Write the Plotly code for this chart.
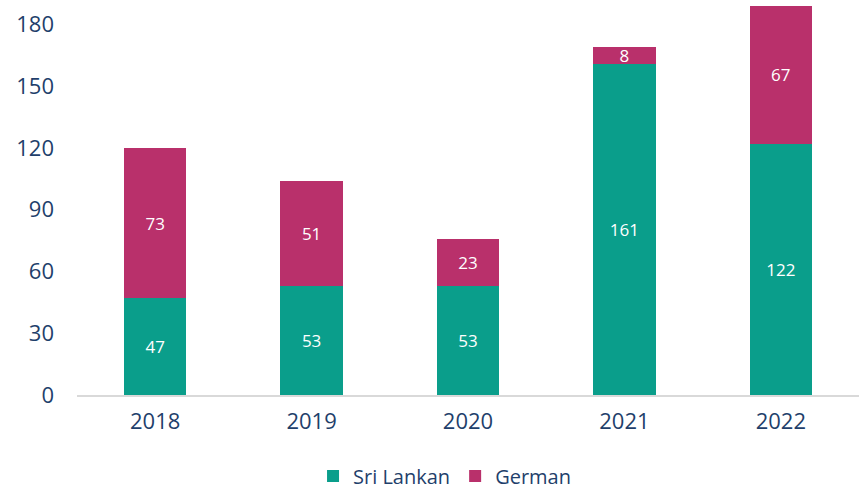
import plotly.graph_objects as go

years = ["2018", "2019", "2020", "2021", "2022"]
sri_lankan = [47, 53, 53, 161, 122]
german = [73, 51, 23, 8, 67]
y_ticks = [0, 30, 60, 90, 120, 150, 180]

teal = "#0A9E8B"
magenta = "#B9306B"
text_blue = "#1F3F6B"
font_family = "Open Sans, Noto Sans, sans-serif"

fig = go.Figure()
fig.add_trace(go.Bar(
    x=years, y=sri_lankan, name="Sri Lankan",
    marker=dict(color=teal, line=dict(width=0)),
    text=[str(v) for v in sri_lankan], textposition="inside",
    insidetextanchor="middle", textangle=0,
    textfont=dict(color="white", size=17, family=font_family),
))
fig.add_trace(go.Bar(
    x=years, y=german, name="German",
    marker=dict(color=magenta, line=dict(width=0)),
    text=[str(v) for v in german], textposition="inside",
    insidetextanchor="middle", textangle=0,
    textfont=dict(color="white", size=17, family=font_family),
))

fig.update_layout(
    barmode="stack",
    bargap=0.6,
    width=860, height=490,
    margin=dict(l=77, r=1, t=5, b=95, autoexpand=False),
    paper_bgcolor="white", plot_bgcolor="white",
    font=dict(family=font_family, color=text_blue, size=21),
    uniformtext=dict(minsize=17, mode="show"),
    showlegend=True,
    legend=dict(
        orientation="h", x=0.47, xanchor="center", y=-0.258, yanchor="bottom",
        font=dict(size=20, color=text_blue), itemwidth=30,
        traceorder="normal", borderwidth=0,
    ),
    xaxis=dict(
        showline=True, linecolor="#D9D9D9", linewidth=2,
        showgrid=False, ticks="", tickfont=dict(size=22, color=text_blue),
        ticklabelstandoff=6, automargin=False,
    ),
    yaxis=dict(
        range=[0, 189.5], tickvals=y_ticks, showgrid=False, zeroline=False,
        showline=False, ticks="", tickfont=dict(size=22, color=text_blue),
        ticklabelstandoff=22, automargin=False,
    ),
)

fig.write_html(
    "out.html",
    config={"displayModeBar": False},
    post_script="document.body.style.margin='0';document.body.style.overflow='hidden';",
)
